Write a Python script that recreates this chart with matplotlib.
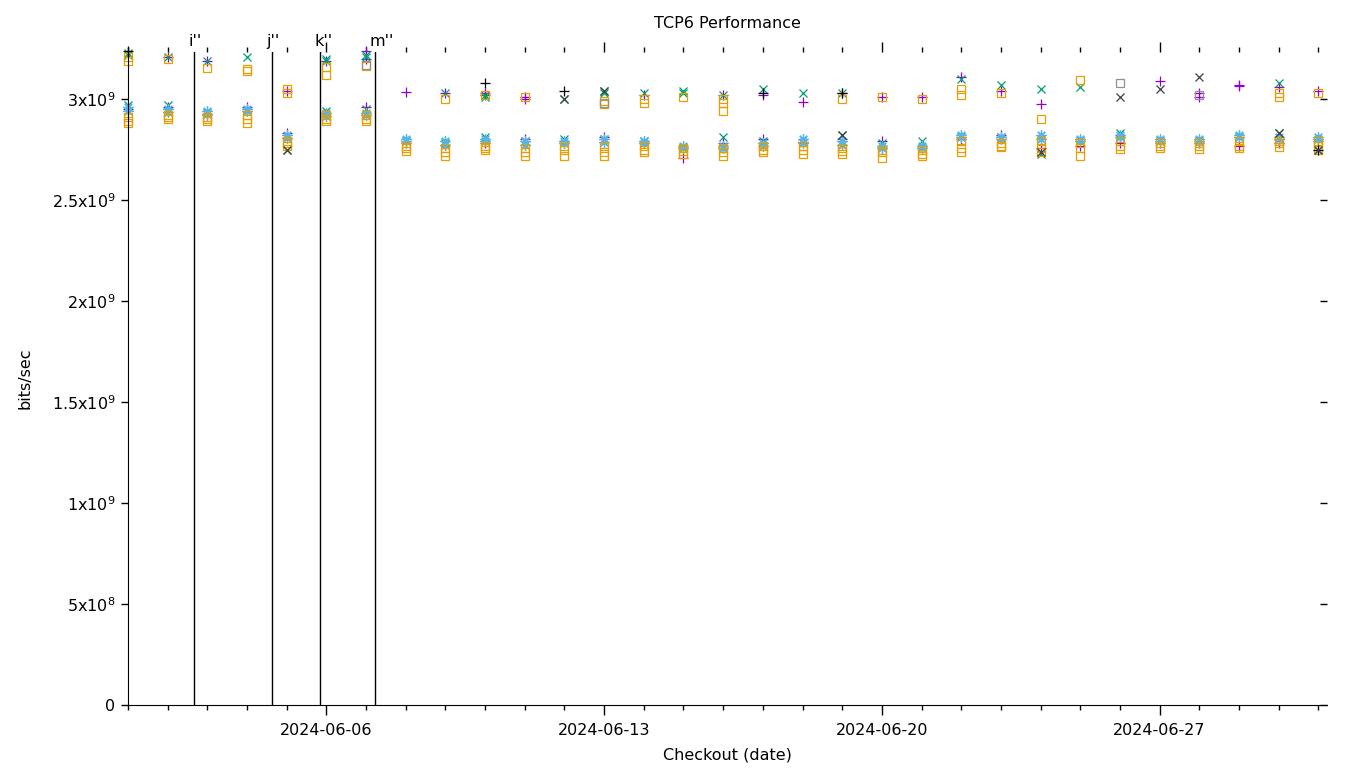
import numpy as np
import pandas as pd
import matplotlib
matplotlib.use("Agg")
import matplotlib.pyplot as plt
import matplotlib.dates as mdates

nan = np.nan

# one checkout per day, 2024-06-01 .. 2024-07-01
days = pd.date_range("2024-06-01", "2024-07-01", freq="D")

# values in units of 1e9 bits/sec
# upper band
up_plus = [nan, 3.21, 3.19, nan, 3.04, 3.19, 3.24, 3.035, 3.03, 3.03, 3.01, nan, nan, 3.02, nan, 3.02,
           3.02, 2.985, 3.03, 3.01, 3.01, 3.11, 3.04, 2.975, nan, nan, 3.09, 3.03, 3.07, 3.06, 3.04]
up_plus2 = [nan, nan, nan, nan, nan, nan, 3.20, nan, nan, 3.02, 3.0, nan, nan, nan, nan, nan,
            nan, nan, nan, nan, nan, nan, nan, nan, nan, nan, nan, 3.01, 3.065, nan, nan]
up_x = [3.23, 3.21, 3.19, 3.21, nan, 3.20, 3.22, nan, 3.03, 3.02, nan, 3.0, 3.04, 3.03, 3.04, 3.02,
        3.05, 3.03, 3.03, nan, nan, 3.10, 3.07, 3.05, 3.06, nan, nan, nan, nan, 3.08, nan]
up_x2 = [3.22, nan, nan, nan, nan, 3.19, 3.21, nan, nan, 3.01, nan, nan, 3.03, nan, 3.03, nan,
         nan, nan, nan, nan, nan, nan, nan, nan, nan, nan, nan, nan, nan, nan, nan]
up_sq = [3.21, 3.20, 3.155, 3.15, 3.05, 3.16, 3.165, nan, 3.0, 3.02, 3.01, nan, 2.975, 3.0, 3.01, 3.0,
         nan, nan, 3.0, 3.01, 3.0, 3.05, 3.03, 2.90, 3.095, nan, nan, nan, nan, 3.03, 3.03]
up_sq2 = [3.19, nan, nan, 3.14, 3.03, 3.12, nan, nan, nan, nan, nan, nan, 2.99, 2.98, nan, 2.98,
          nan, nan, nan, nan, nan, 3.02, nan, nan, nan, nan, nan, nan, nan, 3.01, nan]
up_sq3 = [nan, nan, nan, nan, nan, nan, nan, nan, nan, nan, nan, nan, nan, nan, nan, 2.94,
          nan, nan, nan, nan, nan, nan, nan, nan, nan, nan, nan, nan, nan, nan, nan]

# lower band
lo_plus = [2.95, 2.96, 2.92, 2.96, 2.83, 2.93, 2.96, 2.78, 2.775, 2.78, 2.80, 2.78, 2.81, 2.78, 2.71, 2.78,
           2.80, 2.78, 2.80, 2.79, 2.77, 2.80, 2.82, 2.76, 2.77, 2.78, 2.78, 2.78, 2.77, 2.78, 2.79]
lo_x = [2.97, 2.97, 2.93, 2.94, 2.75, 2.94, 2.95, 2.79, 2.78, 2.81, 2.79, 2.80, 2.80, 2.79, 2.76, 2.81,
        2.79, 2.78, 2.82, 2.78, 2.79, 2.81, 2.81, 2.73, 2.79, 2.83, 2.79, 2.79, 2.81, 2.83, 2.75]
lo_star = [2.96, 2.95, 2.94, 2.95, 2.82, 2.93, 2.93, 2.80, 2.79, 2.80, 2.79, 2.79, 2.80, 2.79, 2.77, 2.77,
           2.78, 2.80, 2.79, 2.77, 2.77, 2.82, 2.81, 2.82, 2.80, 2.82, 2.80, 2.80, 2.82, 2.81, 2.81]
lo_star2 = [2.94, 2.935, 2.925, 2.94, 2.805, 2.915, 2.92, 2.79, 2.775, 2.79, 2.775, 2.78, 2.785, 2.78, 2.76, 2.76,
            2.77, 2.785, 2.775, 2.76, 2.76, 2.81, 2.80, 2.80, 2.79, 2.81, 2.79, 2.79, 2.81, 2.80, 2.80]
lo_sq1 = [2.91, 2.92, 2.91, 2.92, 2.79, 2.92, 2.92, 2.77, 2.76, 2.77, 2.76, 2.77, 2.77, 2.77, 2.76, 2.76,
          2.77, 2.77, 2.76, 2.75, 2.75, 2.79, 2.78, 2.79, 2.78, 2.79, 2.78, 2.78, 2.79, 2.79, 2.79]
lo_sq2 = [2.89, 2.91, 2.90, 2.90, 2.78, 2.90, 2.90, 2.76, 2.74, 2.76, 2.74, 2.75, 2.74, 2.75, 2.745, 2.74,
          2.75, 2.75, 2.745, 2.74, 2.73, 2.76, 2.77, 2.76, 2.76, 2.77, 2.77, 2.77, 2.77, 2.78, 2.77]
lo_sq3 = [2.88, 2.90, 2.89, 2.88, 2.77, 2.89, 2.89, 2.745, 2.72, 2.75, 2.72, 2.72, 2.72, 2.74, 2.73, 2.72,
          2.74, 2.73, 2.73, 2.71, 2.72, 2.74, 2.765, 2.74, 2.72, 2.755, 2.76, 2.755, 2.76, 2.765, 2.75]

# odd black / grey hosts
blk_plus = [3.24, nan, nan, nan, nan, nan, nan, nan, nan, 3.08, nan, 3.04, nan, nan, nan, nan,
            3.03, nan, 3.03, nan, nan, nan, nan, nan, nan, nan, nan, nan, nan, nan, 2.75]
blk_x = [nan, nan, nan, nan, 2.75, nan, nan, nan, nan, nan, nan, 3.0, 3.04, nan, nan, nan,
         nan, nan, 2.82, nan, nan, nan, nan, 2.74, nan, 3.01, 3.05, 3.11, nan, 2.83, 2.75]
grey_sq = [nan, nan, nan, nan, nan, nan, 3.17, nan, nan, nan, nan, nan, 2.98, nan, nan, nan,
           nan, nan, nan, nan, nan, nan, nan, nan, nan, 3.08, nan, 3.02, nan, nan, nan]

# checkout events
event_times = pd.to_datetime(["2024-06-02 16:00", "2024-06-04 15:00", "2024-06-05 20:00", "2024-06-07 05:30"])
event_labels = ["i''", "j''", "k''", "m''"]

ytick_vals = [0, 0.5, 1.0, 1.5, 2.0, 2.5, 3.0]
ytick_labels = ["0", r"$5\mathrm{x}10^{8}$", r"$1\mathrm{x}10^{9}$", r"$1.5\mathrm{x}10^{9}$",
                r"$2\mathrm{x}10^{9}$", r"$2.5\mathrm{x}10^{9}$", r"$3\mathrm{x}10^{9}$"]

PURPLE = "#9400d3"
GREEN = "#009e73"
LBLUE = "#56b4e9"
ORANGE = "#e69f00"

plt.rcParams["font.family"] = "DejaVu Sans"
plt.rcParams["mathtext.fontset"] = "dejavusans"

fig = plt.figure(figsize=(13.6, 7.68), dpi=100)
ax = fig.add_axes([128 / 1360, 1 - 705 / 768, (1327 - 128) / 1360, (705 - 52) / 768])

star = (8, 2, 0)
kw = dict(linestyle="none", clip_on=False, markeredgewidth=0.9)

for s in (up_plus, up_plus2, lo_plus):
    ax.plot(days, s, marker="+", color=PURPLE, markersize=7.5, **kw)
for s in (up_x, up_x2, lo_x):
    ax.plot(days, s, marker="x", color=GREEN, markersize=5.5, **kw)
for s in (lo_star, lo_star2):
    ax.plot(days, s, marker=star, color=LBLUE, markersize=7.5, **kw)
for s in (up_sq, up_sq2, up_sq3, lo_sq1, lo_sq2, lo_sq3):
    ax.plot(days, s, marker="s", color=ORANGE, markerfacecolor="none", markersize=5.5, **kw)
ax.plot(days, blk_plus, marker="+", color="black", markersize=7.5, **kw)
ax.plot(days, blk_x, marker="x", color="#404040", markersize=5.5, **kw)
ax.plot(days, grey_sq, marker="s", color="#909090", markerfacecolor="none", markersize=5.5, **kw)

ymax = 3.233
for t, lab in zip(event_times, event_labels):
    ax.plot([t, t], [0, ymax], color="black", linewidth=1.0)
    ax.annotate(lab, xy=(mdates.date2num(t), ymax), xycoords="data",
                xytext=(-4, 2.5), textcoords="offset points", ha="left", va="bottom", fontsize=11.5)

ax.set_xlim(pd.Timestamp("2024-06-01"), pd.Timestamp("2024-07-01 05:15"))
ax.set_ylim(0, ymax)

ax.xaxis.set_major_locator(mdates.DayLocator(bymonthday=[6, 13, 20, 27]))
ax.xaxis.set_minor_locator(mdates.DayLocator())
ax.xaxis.set_major_formatter(mdates.DateFormatter("%Y-%m-%d"))
ax.set_yticks(ytick_vals)
ax.set_yticklabels(ytick_labels)

ax.spines["top"].set_visible(False)
ax.spines["right"].set_visible(False)
ax.spines["left"].set_bounds(0, 3.253)
ax.tick_params(axis="x", which="major", direction="out", length=7, width=1, top=True, labelsize=11.5, pad=6)
ax.tick_params(axis="x", which="minor", direction="out", length=3.5, width=1, top=True)
ax.tick_params(axis="y", which="major", direction="out", length=5, width=1, labelsize=11.5, pad=4)

sec = ax.secondary_yaxis("right")
sec.set_yticks(ytick_vals)
sec.tick_params(direction="in", length=5, width=1, labelright=False)
sec.spines["right"].set_visible(False)

ax.set_title("TCP6 Performance", fontsize=11.5, pad=17)
ax.set_xlabel("Checkout (date)", fontsize=11.5, labelpad=7)
ax.set_ylabel("bits/sec", fontsize=11.5, labelpad=14)

fig.savefig("out.png", dpi=100)
